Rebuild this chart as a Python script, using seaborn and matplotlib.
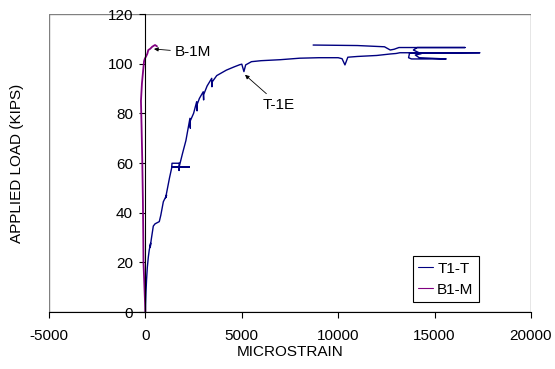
import matplotlib
matplotlib.use("Agg")
import matplotlib.pyplot as plt
import matplotlib.patches as mpatches
import seaborn as sns
import pandas as pd

# T1-T gauge (blue) - strain vs load, traced in plot order
t1_strain = [0, 30, 60, 100, 150, 200, 270, 250, 300, 410, 500, 720, 800, 930,
             1100, 1050, 1150, 1250, 1360, 1380, 1700, 1750, 1750, 1750, 1360, 2280,
             1750, 1930, 2100, 2310, 2330, 2330, 2500, 2660, 2680, 2680, 2800, 3000,
             3020, 3020, 3200, 3440, 3450, 3450, 3700, 4200, 4600, 4900, 5000, 5110,
             5200, 5500, 6000, 7000, 8000, 9000, 10000, 10200, 10350, 10500, 11000,
             12000, 12700, 13000, 13200, 17350, 13700, 13650, 13800, 15600, 14200,
             14000, 14300, 13900, 14100, 16580, 13150, 12900, 12700, 12400, 11000, 8700]
t1_load = [0, 8, 13, 18, 22, 25, 27.7, 26, 29, 34.6, 35.5, 36.4, 39, 44.4,
           47.1, 46, 50, 54, 57.9, 59.9, 59.9, 60, 57, 58.4, 58.4, 58.4,
           58.4, 64, 69, 78, 74, 77, 80, 84.7, 81, 83.5, 86, 88.7,
           85.4, 87.5, 91, 94.1, 90.7, 92.5, 95.2, 97.4, 98.7, 99.6, 99.8, 96.8,
           99.5, 100.8, 101.2, 101.6, 102.2, 102.4, 102.4, 102.0, 99.5, 102.6, 102.9,
           103.3, 103.9, 104.1, 104.4, 104.4, 104.2, 102.4, 101.9, 101.9, 102.4,
           103.5, 104.0, 105.5, 106.5, 106.5, 106.5, 105.8, 105.5, 106.8, 107.3, 107.5]

# B1-M gauge (magenta)
b1_strain = [0, -50, -100, -110, -130, -160, -200, -230, -180, -120, -70, -30, 40,
             100, 150, 250, 350, 450, 500, 600]
b1_load = [0, 10, 20, 30, 45, 60, 75, 85, 92, 97, 101, 102, 103,
           104, 105.5, 106, 106.8, 107.3, 107.5, 107]

x_ticks = [-5000, 0, 5000, 10000, 15000, 20000]
y_ticks = [0, 20, 40, 60, 80, 100, 120]

sns.set_style("white")
plt.rcParams['font.family'] = ['Liberation Sans', 'DejaVu Sans']
plt.rcParams['axes.unicode_minus'] = False
plt.rcParams['text.color'] = 'black'
plt.rcParams['axes.labelcolor'] = 'black'
plt.rcParams['xtick.color'] = 'black'
plt.rcParams['ytick.color'] = 'black'

FS = 11

fig = plt.figure(figsize=(5.55, 3.69), dpi=100)
ax = fig.add_axes([49 / 555, 1 - 312 / 369, 482 / 555, 298 / 369])

df_t = pd.DataFrame({'strain': t1_strain, 'load': t1_load})
df_b = pd.DataFrame({'strain': b1_strain, 'load': b1_load})
sns.lineplot(data=df_t, x='strain', y='load', sort=False, estimator=None,
             color='#000080', lw=1.0, label='T1-T', ax=ax)
sns.lineplot(data=df_b, x='strain', y='load', sort=False, estimator=None,
             color='#800080', lw=1.3, label='B1-M', ax=ax)

ax.set_xlim(-5000, 20000)
ax.set_ylim(0, 120)
ax.set_xticks(x_ticks)
ax.set_yticks(y_ticks)
ax.tick_params(axis='both', direction='out', length=4, width=0.8, color='black',
               labelcolor='black', labelsize=FS, bottom=True, left=True)
ax.tick_params(axis='x', pad=8)
ax.tick_params(axis='y', pad=5)

# y axis crosses at x = 0, gray plot-area frame around
ax.spines['left'].set_position(('data', 0))
ax.spines['left'].set_color('black')
ax.spines['left'].set_linewidth(0.8)
ax.spines['bottom'].set_color('black')
ax.spines['bottom'].set_linewidth(0.8)
ax.spines['top'].set_visible(False)
ax.spines['right'].set_visible(False)
ax.add_patch(mpatches.Rectangle((0, 0), 1, 1, transform=ax.transAxes, fill=False,
                                edgecolor='#808080', lw=1.0, zorder=0))

ax.set_xlabel('MICROSTRAIN', fontsize=FS, labelpad=2)
ax.set_ylabel('APPLIED LOAD (KIPS)', fontsize=FS)
ax.yaxis.set_label_coords(-0.052, 0.5, transform=ax.transAxes)

ax.annotate('B-1M', xy=(445, 105.9), xytext=(1535, 104.6), fontsize=FS, va='center',
            arrowprops=dict(arrowstyle='-|>', color='black', lw=0.6, mutation_scale=6,
                            shrinkA=1, shrinkB=0))
ax.annotate('T-1E', xy=(5166, 95.5), xytext=(6100, 83.4), fontsize=FS, va='center',
            arrowprops=dict(arrowstyle='-|>', color='black', lw=0.6, mutation_scale=6,
                            shrinkA=1, shrinkB=0))

leg = ax.legend(loc='lower right', bbox_to_anchor=(0.892, 0.034), fontsize=FS,
                frameon=True, fancybox=False, edgecolor='black', framealpha=1,
                handlelength=1.0, handletextpad=0.25, borderpad=0.35, labelspacing=0.45,
                borderaxespad=0)
leg.get_frame().set_linewidth(0.8)
for h in leg.get_lines():
    h.set_linewidth(0.8)

fig.savefig('out.png', dpi=100)
